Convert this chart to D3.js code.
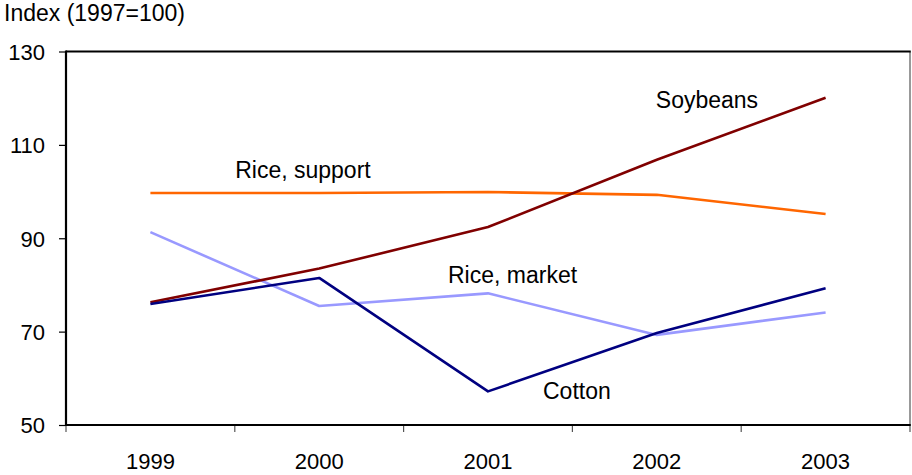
<!DOCTYPE html>
<html>
<head>
<meta charset="utf-8">
<script src="https://cdn.jsdelivr.net/npm/d3@7"></script>
<style>
  html, body { margin: 0; padding: 0; background: #fff; }
  svg text { font-family: Arial, "Liberation Sans", sans-serif; fill: #000; }
</style>
</head>
<body>
<svg id="chart" width="912" height="475"></svg>
<script>
const years = ["1999", "2000", "2001", "2002", "2003"];
const soybeans = [76.3, 83.5, 92.4, 106.8, 120.1];
const riceSupport = [99.7, 99.7, 99.9, 99.3, 95.2];
const riceMarket = [91.3, 75.5, 78.2, 69.3, 74.1];
const cotton = [75.9, 81.5, 57.2, 69.7, 79.3];
const yTicks = [50, 70, 90, 110, 130];
const seriesNames = ["Soybeans", "Rice, support", "Rice, market", "Cotton"];
const seriesColors = ["#800000", "#FF6600", "#9999FF", "#000080"];
const labelAnchors = [
  { year: "2002", value: 117.9, dx: -1 },
  { year: "2000", value: 102.8, dx: -84 },
  { year: "2001", value: 80.4, dx: -40 },
  { year: "2001", value: 55.6, dx: 55 }
];

const svg = d3.select("#chart");
const pLeft = 66, pRight = 910, pTop = 51.5, pBottom = 425;

const x = d3.scaleBand().domain(years).range([pLeft, pRight]);
const y = d3.scaleLinear().domain([50, 130]).range([pBottom, pTop]);

// y axis
const yAxis = svg.append("g")
  .attr("transform", `translate(${pLeft},0)`)
  .call(d3.axisLeft(y).tickValues(yTicks).tickSize(7).tickPadding(14).tickFormat(d3.format("d")));
yAxis.select(".domain").remove();
yAxis.selectAll("line").attr("stroke", "#000").attr("stroke-width", 1.2);
yAxis.selectAll("text").attr("font-size", 22).attr("dy", "0.36em");

// x axis ticks at band boundaries
const boundaries = years.map(d => x(d)).concat([pRight]);
svg.append("g").selectAll("line").data(boundaries).join("line")
  .attr("x1", d => d).attr("x2", d => d)
  .attr("y1", pBottom).attr("y2", pBottom + 7)
  .attr("stroke", "#555").attr("stroke-width", 1.2);

svg.append("g").selectAll("text").data(years).join("text")
  .attr("x", d => x(d) + x.bandwidth() / 2)
  .attr("y", 469)
  .attr("text-anchor", "middle")
  .attr("font-size", 22)
  .text(d => d);

// frame
svg.append("line").attr("x1", pRight).attr("x2", pRight).attr("y1", pTop).attr("y2", pBottom)
  .attr("stroke", "#777").attr("stroke-width", 1.5);
svg.append("line").attr("x1", pLeft).attr("x2", pRight + 0.75).attr("y1", pTop).attr("y2", pTop)
  .attr("stroke", "#000").attr("stroke-width", 2.2);
svg.append("line").attr("x1", pLeft).attr("x2", pRight + 0.75).attr("y1", pBottom).attr("y2", pBottom)
  .attr("stroke", "#000").attr("stroke-width", 2.2);
svg.append("line").attr("x1", pLeft).attr("x2", pLeft).attr("y1", pTop - 1).attr("y2", pBottom + 1)
  .attr("stroke", "#000").attr("stroke-width", 2.2);

// y title
svg.append("text").attr("x", 4).attr("y", 21).attr("font-size", 23).text("Index (1997=100)");

// lines
const allSeries = [soybeans, riceSupport, riceMarket, cotton];
const line = d3.line()
  .x((d, i) => x(years[i]) + x.bandwidth() / 2)
  .y(d => y(d));

// draw order: rice market, rice support, soybeans, cotton
[2, 1, 0, 3].forEach(k => {
  svg.append("path")
    .datum(allSeries[k])
    .attr("d", line)
    .attr("fill", "none")
    .attr("stroke", seriesColors[k])
    .attr("stroke-width", 2.6)
    .attr("stroke-linejoin", "round");
});

// labels
labelAnchors.forEach((a, k) => {
  svg.append("text")
    .attr("x", x(a.year) + x.bandwidth() / 2 + a.dx)
    .attr("y", y(a.value))
    .attr("font-size", 23)
    .text(seriesNames[k]);
});
</script>
</body>
</html>
